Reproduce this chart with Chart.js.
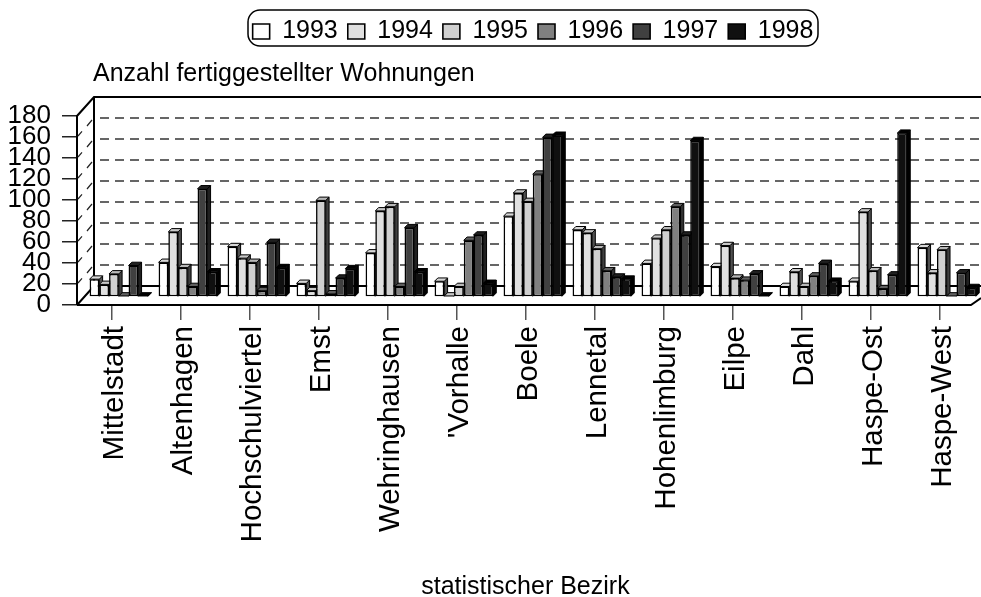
<!DOCTYPE html>
<html>
<head>
<meta charset="utf-8">
<script src="https://cdn.jsdelivr.net/npm/chart.js@4"></script>
<style>
html,body{margin:0;padding:0;background:#fff}
canvas{display:block}
</style>
</head>
<body>
<canvas id="chart" width="981" height="597"></canvas>
<script>
const districts = ['Mittelstadt','Altenhagen','Hochschulviertel','Emst','Wehringhausen',"'Vorhalle",'Boele','Lennetal','Hohenlimburg','Eilpe','Dahl','Haspe-Ost','Haspe-West']
const years = ['1993','1994','1995','1996','1997','1998']
const v1993 = [17,33,48,13,42,15,77,64,32,29,10,15,47]
const v1994 = [12,62,37,6,82,1,99,61,56,49,24,81,23]
const v1995 = [22,28,33,92,86,10,91,46,64,18,10,25,45]
const v1996 = [1,10,6,3,10,54,117,25,86,16,20,8,1]
const v1997 = [30,103,52,18,66,59,152,19,59,22,32,21,23]
const v1998 = [1,24,28,27,24,13,154,17,149,1,15,156,9]
const yTicks = [0,20,40,60,80,100,120,140,160,180]
const allValues = [v1993,v1994,v1995,v1996,v1997,v1998]
const fronts = ['#ffffff','#e0e0e0','#d0d0d0','#808080','#404040','#101010']
const tops = ['#d8d8d8','#c8c8c8','#b8b8b8','#606060','#202020','#000000']
const sides = ['#505050','#505050','#404040','#303030','#202020','#000000']

const wallDx = 17, wallDy = -19
const barDx = 7.3, barDy = -8
const barDepth = 3.3

// walls, floor and dashed grid sit behind the bars
const frame3d = {
  id: 'frame3d',
  beforeDatasetsDraw(chart) {
    const {ctx, chartArea: a, scales: {y}} = chart
    ctx.save()
    const bottom = y.getPixelForValue(0), top = y.getPixelForValue(180)
    ctx.strokeStyle = '#000'
    ctx.lineWidth = 2
    ctx.beginPath()
    ctx.moveTo(a.left, bottom); ctx.lineTo(a.left, top)
    ctx.lineTo(a.left+wallDx, top+wallDy); ctx.lineTo(981, top+wallDy)
    ctx.moveTo(a.left+wallDx, top+wallDy); ctx.lineTo(a.left+wallDx, bottom+wallDy)
    ctx.lineTo(981, bottom+wallDy)
    ctx.moveTo(a.left, bottom); ctx.lineTo(a.left+wallDx, bottom+wallDy)
    ctx.moveTo(a.left, bottom); ctx.lineTo(a.right-3, bottom); ctx.lineTo(981, bottom-7)
    ctx.stroke()
    ctx.strokeStyle = '#666'
    ctx.setLineDash([9,6])
    yTicks.slice(1,-1).forEach(t => {
      const py = y.getPixelForValue(t)+wallDy
      ctx.beginPath(); ctx.moveTo(a.left+wallDx+6, py); ctx.lineTo(981, py); ctx.stroke()
    })
    ctx.setLineDash([])
    ctx.lineWidth = 1.2
    ctx.strokeStyle = '#222'
    yTicks.slice(1,-1).forEach(t => {
      const py = y.getPixelForValue(t)
      ctx.beginPath()
      ctx.moveTo(a.left+1, py-1); ctx.lineTo(a.left+5, py-5.6)
      ctx.moveTo(a.left+10, py-11); ctx.lineTo(a.left+15, py-17)
      ctx.stroke()
    })
    ctx.restore()
    // bars go left to right so each front covers the side of the one before
    ctx.save()
    ctx.translate(barDx, barDy)
    chart.getSortedVisibleDatasetMetas().slice().sort((m,n)=>m.index-n.index).forEach(meta => {
      meta.data.forEach(bar => {
        const p = bar.getProps(['x','y','width','base'])
        const l = p.x-p.width/2, r = p.x+p.width/2
        ctx.strokeStyle = '#000'
        ctx.lineWidth = 1
        ctx.fillStyle = sides[meta.index]
        ctx.beginPath()
        ctx.moveTo(r,p.y); ctx.lineTo(r+barDepth,p.y-barDepth); ctx.lineTo(r+barDepth,p.base-barDepth); ctx.lineTo(r,p.base)
        ctx.closePath(); ctx.fill(); ctx.stroke()
        ctx.fillStyle = tops[meta.index]
        ctx.beginPath()
        ctx.moveTo(l,p.y); ctx.lineTo(l+barDepth,p.y-barDepth); ctx.lineTo(r+barDepth,p.y-barDepth); ctx.lineTo(r,p.y)
        ctx.closePath(); ctx.fill(); ctx.stroke()
        bar.draw(ctx)
      })
    })
    ctx.restore()
    return false
  }
}

// title and legend are placed by hand, the legend also gets its rounded box
const placeBlocks = {
  id: 'placeBlocks',
  afterLayout(chart) {
    const t = chart.titleBlock, l = chart.legend
    t.left = 93; t.top = 59
    const w = l.right-l.left
    l.left = 533-w/2; l.right = 533+w/2; l.top = 9
  },
  afterDraw(chart) {
    const {ctx} = chart
    ctx.save()
    ctx.strokeStyle = '#000'
    ctx.lineWidth = 1.5
    ctx.beginPath()
    ctx.roundRect(248,10,570,36,12)
    ctx.stroke()
    ctx.restore()
  }
}

new Chart(document.getElementById('chart'), {
  type: 'bar',
  data: {
    labels: districts,
    datasets: allValues.map((vals,i) => ({
      label: years[i],
      data: vals,
      backgroundColor: fronts[i],
      borderColor: '#000',
      borderWidth: 1.6,
      borderSkipped: false,
      categoryPercentage: 0.847,
      barPercentage: 1
    }))
  },
  options: {
    responsive: false,
    animation: false,
    devicePixelRatio: 1,
    layout: {padding: {top: 27, left: 0, right: 4.4, bottom: 0}},
    plugins: {
      tooltip: {enabled: false},
      title: {
        display: true,
        text: 'Anzahl fertiggestellter Wohnungen',
        align: 'start',
        color: '#000',
        font: {family: '"Liberation Sans"', size: 25, weight: 'normal'},
        padding: {top: 0, bottom: 14}
      },
      legend: {
        position: 'top',
        labels: {
          color: '#000',
          font: {family: '"Liberation Sans"', size: 25},
          boxWidth: 17,
          boxHeight: 15,
          padding: 10
        }
      }
    },
    scales: {
      x: {
        grid: {drawOnChartArea: false, color: '#555', tickLength: 15, lineWidth: 1.5, offset: false},
        border: {display: false},
        afterFit(s) { s.height = 597-305 },
        ticks: {
          color: '#000',
          font: {family: '"Liberation Sans"', size: 29.5},
          minRotation: 90,
          maxRotation: 90,
          autoSkip: false,
          labelOffset: 3,
          padding: 6
        },
        title: {
          display: true,
          text: 'statistischer Bezirk',
          color: '#000',
          font: {family: '"Liberation Sans"', size: 25},
          padding: {top: 0, bottom: -5}
        }
      },
      y: {
        min: 0,
        max: 180,
        afterFit(s) { s.width = 77 },
        afterBuildTicks(s) { s.ticks = yTicks.map(value => ({value})) },
        grid: {drawOnChartArea: false, color: '#222', tickLength: 15, lineWidth: 1.5},
        border: {display: false},
        ticks: {
          color: '#000',
          font: {family: '"Liberation Sans"', size: 26},
          autoSkip: false,
          padding: 11
        }
      }
    }
  },
  plugins: [frame3d, placeBlocks]
})
</script>
</body>
</html>
